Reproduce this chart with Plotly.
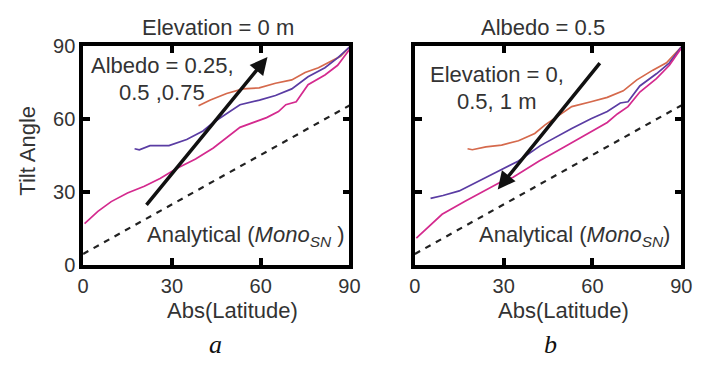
import plotly.graph_objects as go

# ---- Panel a: Elevation = 0 m, albedo varied ----
lat_a_hi = [39, 43, 48.5, 54, 59.5, 65, 70.5, 75, 79.5, 84, 87, 90]
tilt_a_hi = [65.4, 67.7, 70.4, 72.3, 72.7, 74.6, 76, 79, 81, 84, 85.7, 89.5]

lat_a_mid = [17.4, 19, 22.6, 29, 35, 40.5, 44, 53, 59.6, 65, 70.5, 76, 81.7, 86, 90]
tilt_a_mid = [47.7, 47.3, 49, 49, 51.5, 55, 58.5, 65.8, 67.7, 69.6, 72.3, 77.3, 81, 85, 89.5]

lat_a_lo = [0.5, 5, 9.5, 15, 20.7, 26, 31.6, 38, 44, 53, 62, 66, 68.5, 72, 76, 81.7, 86, 90]
tilt_a_lo = [17, 22, 26, 29.5, 32.3, 35.5, 39.6, 43.5, 48, 56.5, 60.5, 63, 65.8, 67, 74, 78, 82, 88.5]

# ---- Panel b: Albedo = 0.5, elevation varied ----
lat_b_0 = [17.8, 19.4, 24, 29.3, 35, 40.5, 44, 53, 59.5, 65, 70.4, 75, 80.4, 85, 90]
tilt_b_0 = [47.7, 47.3, 48.5, 49.2, 51, 54, 57.5, 65, 67, 68.8, 71.5, 76, 80, 83, 89.5]

lat_b_05 = [5.3, 9.5, 15, 20.7, 27.3, 35, 42.4, 53, 59.5, 65, 69.4, 72, 76, 81.6, 86, 90]
tilt_b_05 = [27.3, 28.5, 30.4, 33.8, 38, 42.7, 49, 56, 60, 63, 66.5, 67, 73.5, 78.5, 83, 89.5]

lat_b_1 = [0.5, 9.2, 16.8, 24.4, 29, 33.2, 42, 50.6, 57, 65, 68.4, 72, 76, 81.6, 86, 90]
tilt_b_1 = [11, 20.8, 26, 31, 34, 36, 42.7, 48.5, 53, 58.5, 62, 65, 71, 76.5, 82, 89]

# Analytical (Mono_SN) reference line
lat_analytical = [0, 90]
tilt_analytical = [4.5, 65.5]

# Arrow endpoints (tail, head) in data units
arrow_a = [(21, 24), (62.3, 85.4)]
arrow_b = [(62.9, 83.5), (28, 31)]

tick_vals = [0, 30, 60, 90]

ORANGE = "#d5694c"
PURPLE = "#5a3ca3"
MAGENTA = "#d42a8e"
FONT = "Liberation Sans"

fig = go.Figure()

def add_lines(xaxis, yaxis, series):
    for xs, ys, col in series:
        fig.add_trace(go.Scatter(x=xs, y=ys, mode="lines", xaxis=xaxis, yaxis=yaxis,
                                 line=dict(color=col, width=1.7), showlegend=False,
                                 hoverinfo="skip"))
    fig.add_trace(go.Scatter(x=lat_analytical, y=tilt_analytical, mode="lines",
                             xaxis=xaxis, yaxis=yaxis,
                             line=dict(color="#222222", width=2.2, dash="6px,6px"),
                             showlegend=False, hoverinfo="skip"))

add_lines("x", "y", [(lat_a_hi, tilt_a_hi, ORANGE), (lat_a_mid, tilt_a_mid, PURPLE),
                     (lat_a_lo, tilt_a_lo, MAGENTA)])
add_lines("x2", "y2", [(lat_b_0, tilt_b_0, ORANGE), (lat_b_05, tilt_b_05, PURPLE),
                       (lat_b_1, tilt_b_1, MAGENTA)])

W, H = 703, 369
ytop, ybot = 37, 270
dom_y = [1 - ybot / H, 1 - ytop / H]

axis_common = dict(range=[0, 90], tickvals=tick_vals, showgrid=False, zeroline=False,
                   showline=True, linecolor="black", linewidth=3.5, mirror="allticks",
                   ticks="inside", ticklen=7, tickwidth=3.5, tickcolor="black",
                   tickfont=dict(family=FONT, size=20, color="#333333"))

fig.update_layout(
    width=W, height=H, margin=dict(l=0, r=0, t=0, b=0),
    paper_bgcolor="white", plot_bgcolor="white",
    xaxis=dict(domain=[79 / W, 352 / W], anchor="y", **axis_common),
    yaxis=dict(domain=dom_y, anchor="x", **axis_common),
    xaxis2=dict(domain=[419 / W, 692 / W], anchor="y2", **axis_common),
    yaxis2=dict(domain=dom_y, anchor="x2", showticklabels=False, **axis_common),
)

def px_ann(text, x, y, size=22, family=FONT, color="#333333", **kw):
    fig.add_annotation(text=text, x=x / W, y=1 - y / H, xref="paper", yref="paper",
                       showarrow=False, xanchor="center", yanchor="middle",
                       font=dict(family=family, size=size, color=color), **kw)

# Panel titles and axis titles
px_ann("Elevation = 0 m", 217, 18)
px_ann("Albedo = 0.5", 550, 18)
px_ann("Tilt Angle", 22, 148, textangle=-90)
px_ann("Abs(Latitude)", 232, 318)
px_ann("Abs(Latitude)", 571, 318)
px_ann("<i>a</i>", 215, 355, size=26, family="Liberation Serif", color="#111111")
px_ann("<i>b</i>", 558, 355, size=26, family="Liberation Serif", color="#111111")

# In-plot labels
px_ann("Albedo = 0.25,", 160, 58)
px_ann("0.5 ,0.75", 160, 87)
px_ann("Elevation = 0,", 503, 67)
px_ann("0.5, 1 m", 503, 96)
px_ann("Analytical (<i>Mono<sub>SN</sub></i> )", 245, 239)
px_ann("Analytical (<i>Mono<sub>SN</sub></i>)", 583, 239)

# Trend arrows
for (tail, head), xr, yr in [(arrow_a, "x", "y"), (arrow_b, "x2", "y2")]:
    fig.add_annotation(x=head[0], y=head[1], ax=tail[0], ay=tail[1],
                       xref=xr, yref=yr, axref=xr, ayref=yr, text="",
                       showarrow=True, arrowhead=2, arrowsize=1, arrowwidth=3.5,
                       arrowcolor="#111111")

fig.write_html("out.html")
